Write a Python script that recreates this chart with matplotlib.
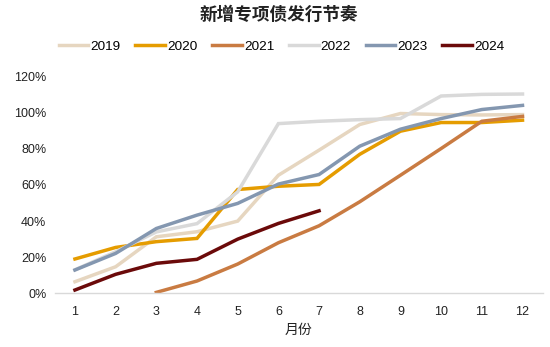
import matplotlib
matplotlib.use("Agg")
import matplotlib.pyplot as plt
from matplotlib.ticker import FuncFormatter

plt.rcParams['font.family'] = ['Liberation Sans', 'Noto Sans CJK SC', 'DejaVu Sans']

months = list(range(1, 13))
month_labels = [str(m) for m in months]

y2019 = [6.4, 14.7, 31.3, 34.1, 40.0, 65.4, 79.3, 93.5, 99.6, 99.0, 98.8, 99.0]
y2020 = [19.0, 25.4, 28.6, 30.4, 57.5, 59.3, 60.3, 77.0, 89.8, 94.6, 94.6, 95.9]
m2021 = list(range(3, 13))
y2021 = [0.5, 6.8, 16.2, 28.0, 37.4, 50.7, 65.4, 80.2, 95.3, 98.0]
y2022 = [13.0, 23.0, 34.0, 38.6, 56.2, 94.0, 95.3, 96.2, 96.8, 109.3, 110.2, 110.4]
y2023 = [12.9, 22.1, 35.9, 43.3, 49.8, 60.5, 65.8, 81.5, 90.9, 96.8, 101.8, 104.1]
m2024 = list(range(1, 8))
y2024 = [1.8, 10.5, 16.6, 18.8, 30.0, 38.7, 45.7]

series = [
    ("2019", months, y2019, "#E6D6C0"),
    ("2020", months, y2020, "#E59C00"),
    ("2021", m2021, y2021, "#C97B42"),
    ("2022", months, y2022, "#D9D9D9"),
    ("2023", months, y2023, "#8497B0"),
    ("2024", m2024, y2024, "#6B0A0A"),
]
yticks = [0, 20, 40, 60, 80, 100, 120]

fig = plt.figure(figsize=(5.5, 3.47), dpi=100)
ax = fig.add_axes([0.0993, 0.1548, 0.8877, 0.6242])

handles = []
for name, xs, ys, c in series:
    h, = ax.plot(xs, ys, color=c, lw=2.5, label=name, solid_joinstyle='miter')
    handles.append(h)

ax.set_xlim(0.5, 12.5)
ax.set_ylim(0, 120)
ax.set_xticks(months)
ax.set_xticklabels(month_labels)
ax.set_yticks(yticks)
ax.yaxis.set_major_formatter(FuncFormatter(lambda v, p: f"{int(v)}%"))
for s in ['top', 'right', 'left']:
    ax.spines[s].set_visible(False)
ax.spines['bottom'].set_color('#D9D9D9')
ax.spines['bottom'].set_linewidth(1.0)
ax.tick_params(axis='both', length=0, labelsize=9, colors='#222222')
ax.tick_params(axis='x', pad=9)
ax.tick_params(axis='y', pad=6)
ax.set_xlabel("月份", fontsize=10, color='#222222', labelpad=4)

fig.text(0.507, 0.955, "新增专项债发行节奏", ha='center', va='center',
         fontsize=12.7, fontweight='bold', color='#222222')
fig.legend(handles=handles, loc='center', bbox_to_anchor=(0.512, 0.865), ncol=6,
           frameon=False, fontsize=9.7, handlelength=2.2, handletextpad=0.15,
           columnspacing=1.1)

fig.savefig("out.png", dpi=100)
